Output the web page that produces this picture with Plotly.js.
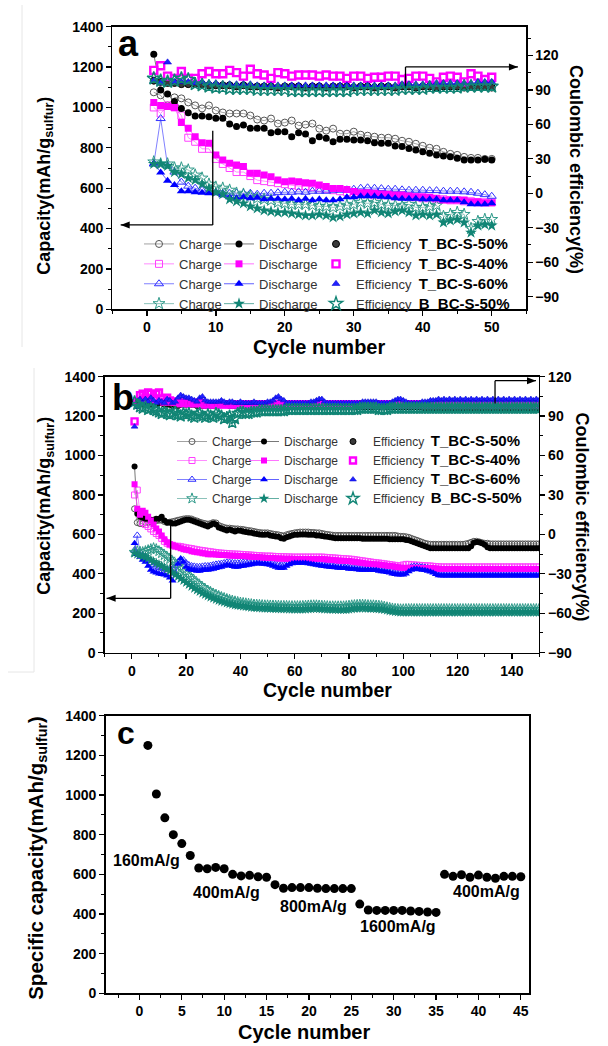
<!DOCTYPE html>
<html><head><meta charset="utf-8">
<script src="https://cdn.plot.ly/plotly-3.0.1.min.js"></script>
<style>html,body{margin:0;padding:0;background:#fff}#g{width:608px;height:1046px}</style>
</head><body><div id="g"></div>
<script>
// ---------- Panel a (cycles 1..50) ----------
const aC50=[1075,1060,1010,1050,1045,1025,1010,995,1010,985,975,970,970,970,960,940,935,945,920,925,935,910,915,920,895,885,895,870,870,880,865,860,855,850,850,845,835,830,820,810,800,795,780,770,765,755,750,750,745,745];
const aD50=[1263,1086,1067,1029,995,974,958,958,954,946,946,918,905,913,897,897,897,875,880,880,855,875,868,835,855,847,830,842,842,839,839,835,825,822,822,809,806,797,789,781,773,764,759,756,748,740,740,740,743,740];
const aC40=[1000,970,1010,1000,960,850,830,795,795,745,720,700,680,680,660,640,635,630,625,620,615,610,610,605,600,595,590,585,580,575,570,570,565,565,565,560,560,555,555,550,550,545,545,540,540,535,535,530,530,530];
const aD40=[1025,1010,1005,1000,925,897,855,825,822,764,740,723,715,707,674,674,665,657,640,632,636,632,627,624,616,608,599,599,594,583,578,578,575,571,570,566,566,561,558,558,555,550,541,541,541,541,533,533,528,528];
const aC60=[720,945,711,680,630,610,600,590,580,580,575,575,575,575,575,570,575,575,578,580,580,582,580,585,585,585,590,590,592,595,600,602,600,598,595,595,592,590,590,590,588,588,585,585,585,582,580,575,568,560];
const aD60=[723,678,637,616,585,585,580,578,575,575,565,555,550,555,550,552,545,548,548,545,548,540,548,540,545,540,540,545,555,555,560,560,560,558,555,550,548,548,548,545,545,545,540,540,540,530,520,520,520,525];
const aCB=[730,720,720,700,700,690,665,650,620,605,600,590,575,570,560,550,545,540,530,525,520,520,520,515,510,510,505,510,515,520,530,525,530,520,515,515,510,520,505,505,510,515,460,470,480,470,400,435,445,445];
const aDB=[720,720,710,680,670,650,640,620,600,580,570,545,535,525,510,500,490,485,480,480,475,470,465,465,470,465,455,460,470,475,480,475,490,480,475,485,490,480,465,470,465,470,430,440,445,430,380,415,420,415];
const aE50=[98,97,96,96,95,95,95,95,94,94,94,94,93,94,93,93,93,93,92,93,93,93,92,93,93,92,93,93,93,92,93,93,92,93,93,92,93,93,92,93,93,92,93,93,93,92,93,93,93,92];
const aE40=[107,111,102,100,106,100,100,104,106,104,104,107,105,102,108,104,103,100,105,104,102,103,103,103,102,103,102,102,100,102,102,100,101,101,102,102,99,100,102,102,100,97,101,102,101,97,104,102,99,101];
const aE60=[98,96,114,97,97,97,96,97,96,96,95,95,95,95,95,94,94,94,94,94,94,94,94,94,94,94,94,94,94,94,94,94,94,94,94,94,95,95,95,95,95,96,96,96,96,96,96,97,97,97];
const aEB=[100,98,97,98,100,99,95,94,93,92,92,91,91,91,91,90,90,90,90,90,89,89,89,89,89,89,89,89,89,90,90,90,90,90,90,90,91,91,91,91,92,92,92,92,92,93,93,93,93,93];

// ---------- Panel b (cycles 1..150) ----------
const bC50=[730,660,655,655,660,660,665,668,670,672,672,665,660,662,665,668,672,675,678,680,680,678,672,668,662,658,655,652,655,660,658,645,640,635,632,632,630,628,628,626,625,622,620,618,615,612,610,608,608,608,605,602,600,598,595,592,598,602,605,608,610,612,612,612,612,610,610,608,608,605,602,600,598,596,595,595,595,595,595,595,595,595,595,595,595,595,595,595,595,595,595,595,595,595,595,595,595,592,590,590,588,585,580,575,570,565,560,555,552,550,550,550,550,550,550,550,550,550,550,550,550,550,552,555,560,565,565,562,558,555,555,552,552,552,552,552,552,552,552,552,552,552,552,552,552,552,552,552,552,552];
const bD50=[945,705,690,685,680,680,675,675,680,680,690,670,660,660,655,655,660,665,670,675,675,670,665,660,655,650,645,640,648,655,650,635,630,625,620,625,620,615,620,618,615,612,610,608,605,602,600,598,598,600,595,592,590,588,580,578,585,590,595,598,598,600,600,600,598,598,598,595,595,592,590,588,585,583,580,580,580,580,580,580,580,580,580,580,578,578,578,578,578,578,578,578,578,578,575,575,575,575,575,575,572,570,565,560,555,550,545,540,535,530,530,530,530,530,530,530,530,530,530,530,530,530,530,530,540,558,562,560,555,548,535,530,530,530,530,530,530,530,530,530,530,530,530,530,530,530,530,530,530,530];
const bC40=[800,825,705,660,650,640,628,615,605,595,580,565,555,548,545,540,540,538,535,532,530,528,525,522,520,518,516,514,512,510,508,506,505,504,503,502,501,500,500,499,498,497,496,495,494,493,492,491,490,490,490,489,488,488,487,487,486,486,485,485,485,485,485,485,485,485,485,485,485,485,484,483,482,481,480,479,478,477,476,475,474,472,470,468,466,464,462,460,458,456,455,453,451,449,447,445,443,441,440,445,448,448,446,445,444,443,442,441,440,440,438,437,436,435,435,435,435,435,435,435,435,435,435,435,435,435,435,435,435,435,435,435,435,435,435,435,435,435,435,435,435,435,435,435,435,435,435,435,435,435];
const bD40=[855,730,700,720,710,690,670,650,630,615,595,575,560,550,545,540,535,530,525,522,520,515,512,510,508,505,503,500,500,500,498,497,496,495,494,493,492,492,491,490,490,489,488,487,486,485,484,483,482,480,480,480,479,478,478,477,477,476,476,475,475,475,475,475,475,475,475,475,475,475,474,473,472,470,469,468,467,466,465,465,463,461,459,457,455,453,451,450,449,448,447,445,443,441,440,438,436,434,432,430,430,430,430,430,430,430,430,430,430,430,428,427,426,425,425,425,425,425,425,425,425,425,425,425,425,425,425,425,425,425,425,425,425,425,425,425,425,425,425,425,425,425,425,425,425,425,425,425,425,425];
const bC60=[520,595,510,495,485,470,455,445,438,432,428,425,422,420,425,440,460,470,470,455,445,440,438,436,436,438,440,440,442,445,448,450,452,455,458,458,456,455,455,456,458,460,462,464,465,466,466,465,465,464,462,458,452,448,445,446,452,458,462,465,466,466,466,466,465,463,461,459,457,455,453,451,450,448,447,445,445,443,442,440,440,440,438,436,436,436,436,435,434,433,431,428,426,424,421,418,415,413,412,412,418,428,435,438,438,436,434,432,430,426,420,414,410,408,408,408,408,408,408,408,408,408,408,408,408,408,408,408,408,408,408,408,408,408,408,408,408,408,408,408,408,408,408,408,408,408,408,408,408,408];
const bD60=[555,500,485,470,460,440,420,410,405,400,398,395,390,380,365,400,450,478,460,435,425,420,418,415,415,418,420,420,422,425,428,432,435,440,445,442,438,435,435,438,440,442,445,448,450,452,452,450,450,448,445,440,435,430,428,430,440,448,452,455,455,455,455,455,452,450,448,445,442,440,438,436,435,433,432,430,430,428,428,425,425,425,422,420,420,420,420,420,418,418,415,412,410,408,405,400,398,396,395,395,400,412,420,425,425,422,420,418,415,410,405,398,392,390,390,390,390,390,390,390,390,390,390,390,390,390,390,390,390,390,390,390,390,390,390,390,390,390,390,390,390,390,390,390,390,390,390,390,390,390];
const bCB=[510,515,512,510,515,520,525,530,525,515,505,495,485,475,462,450,438,425,412,400,388,376,364,352,342,332,323,315,308,300,294,288,282,277,272,268,264,260,257,254,252,250,248,246,244,243,242,241,240,240,239,239,238,238,237,237,237,236,236,236,236,236,237,238,239,240,240,240,239,238,237,236,235,235,235,235,235,235,236,238,240,241,242,243,243,242,241,240,240,239,238,236,233,230,227,224,222,221,220,220,221,221,221,221,221,221,221,221,221,221,221,221,221,221,221,221,221,221,221,221,221,221,221,221,221,221,221,221,221,221,221,221,221,221,221,221,221,221,221,221,221,221,221,221,221,221,221,221,221,221];
const bDB=[505,500,495,490,485,478,470,462,455,448,440,432,424,415,405,396,386,376,366,356,346,336,326,318,310,302,295,288,282,276,270,265,260,256,252,248,245,242,240,238,236,234,232,230,229,228,227,226,225,225,224,224,223,223,222,222,222,221,221,220,220,220,220,221,222,223,224,224,223,222,221,220,220,219,219,218,218,218,218,220,222,224,225,226,226,225,225,224,224,223,222,220,218,215,212,210,208,206,205,205,205,205,205,205,205,205,205,205,205,205,205,205,205,205,205,205,205,205,205,205,205,205,205,205,205,205,205,205,205,205,205,205,205,205,205,205,205,205,205,205,205,205,205,205,205,205,205,205,205,205];
const bE50=[100,98,99,100,99,99,100,99,99,100,100,99,99,99,98,98,98,99,99,99,99,99,99,98,98,98,98,98,98,98,98,99,99,99,99,98,98,98,98,98,98,98,98,97,97,97,97,97,97,97,98,98,98,97,97,97,97,97,97,97,97,97,97,98,98,97,97,97,97,97,97,97,97,97,97,97,97,97,97,97,97,97,97,97,97,97,97,97,97,97,97,97,97,97,97,97,97,97,97,97,97,97,97,97,97,97,97,96,96,96,96,96,96,96,96,96,96,96,96,96,96,96,96,96,96,96,96,96,96,96,96,96,96,96,96,96,96,96,96,96,96,96,96,96,96,96,96,96,96,96];
const bE40=[86,101,106,107,104,108,107,103,107,108,103,101,104,102,101,101,101,100,100,100,100,100,100,100,100,99,99,99,99,99,99,99,99,99,99,99,99,99,99,99,99,99,99,99,99,99,99,99,99,99,99,99,99,99,99,99,99,99,99,99,99,99,99,99,99,99,99,99,99,99,99,99,99,99,99,99,99,99,99,99,99,99,99,99,99,99,99,99,99,99,99,99,99,99,99,99,99,99,99,99,99,99,99,99,99,99,99,99,99,99,99,99,99,99,99,99,99,99,99,99,99,99,99,99,99,99,99,99,99,99,99,99,99,99,99,99,99,99,99,99,99,99,99,99,99,99,99,99,99,99];
const bE60=[82,97,103,100,103,101,104,102,100,102,101,100,103,102,100,101,104,106,105,104,104,103,102,101,104,105,102,101,101,101,101,101,102,101,100,101,101,100,100,101,100,100,100,100,101,100,100,100,100,101,101,102,104,105,103,102,100,100,100,100,100,100,100,100,100,101,101,102,103,103,101,100,100,100,100,100,100,100,100,100,100,100,100,100,101,101,101,101,101,101,100,100,100,100,100,101,102,103,103,102,101,100,100,100,100,100,101,101,101,102,102,102,103,102,103,102,103,102,103,102,103,102,103,102,103,102,103,102,103,102,103,102,103,102,103,102,103,102,103,102,103,102,103,102,103,102,103,102,103,102];
const bEB=[101,99,97,96,97,95,96,95,94,93,92,93,92,91,92,93,91,90,92,91,92,90,89,91,92,90,89,91,90,89,92,91,90,88,89,90,85,88,92,93,93,92,92,93,93,93,94,94,94,94,94,94,94,94,94,94,95,95,95,95,95,95,95,95,95,95,95,95,95,95,95,95,95,95,95,95,95,95,95,95,95,95,95,96,96,96,96,96,96,96,95,95,95,95,96,96,96,96,96,96,96,96,96,96,96,96,96,96,96,96,96,96,96,96,96,96,96,96,96,96,96,96,96,96,96,96,96,96,96,96,96,96,96,96,96,96,96,96,96,96,96,96,96,96,96,96,96,96,96,96];

// ---------- Panel c (cycles 1..45) ----------
const cCap=[1250,1005,885,800,755,695,632,628,635,628,600,592,595,588,585,548,530,533,533,533,530,528,528,528,528,450,420,418,418,418,418,415,413,410,408,600,590,598,585,596,585,580,590,590,588];
const cRates=['160mA/g','400mA/g','800mA/g','1600mA/g','400mA/g'];
const cRateX=[0.8,10.3,20.5,30.5,40.9];
const cRateY=[672,508,437,336,513];

const samples=['T_BC-S-50%','T_BC-S-40%','T_BC-S-60%','B_BC-S-50%'];

const F='"Liberation Sans", Arial, sans-serif';
const chargeSty=[
 {line:'#8a8a8a',mk:'circle-open',mc:'#555555'},
 {line:'#ff70ff',mk:'square-open',mc:'#ff40ff'},
 {line:'#6060ff',mk:'triangle-up-open',mc:'#3030ff'},
 {line:'#6fb3a8',mk:'star-open',mc:'#2f9a8a'}];
const dischSty=[
 {line:'#555555',mk:'circle',mc:'#000000'},
 {line:'#ff50ff',mk:'square',mc:'#ff00ff'},
 {line:'#3a3aff',mk:'triangle-up',mc:'#0000ff'},
 {line:'#3a9a8c',mk:'star',mc:'#118575'}];
const effSty=[
 {mk:'circle',mc:'#3a3a3a',lw:1,lc:'#000'},
 {mk:'square-open',mc:'#ff00ff',lw:2.4,lc:'#ff00ff'},
 {mk:'triangle-up',mc:'#2020ff',lw:0.5,lc:'#0000cc'},
 {mk:'star-open',mc:'#118575',lw:1.4,lc:'#118575'}];

const traces=[];
function addPanel(C,D,E,xa,yl,yr,lg,sz){
  C.forEach((y,i)=>traces.push({type:'scatter',mode:'lines+markers',y:y,x0:1,dx:1,xaxis:xa,yaxis:yl,name:'Charge',legend:lg[0],
    line:{color:chargeSty[i].line,width:0.8},marker:{symbol:chargeSty[i].mk,size:sz[0]+(i>=2?1+(i-2)*1:0),color:chargeSty[i].mc,line:{width:1,color:chargeSty[i].mc}},hoverinfo:'skip'}));
  D.forEach((y,i)=>traces.push({type:'scatter',mode:'lines+markers',y:y,x0:1,dx:1,xaxis:xa,yaxis:yl,name:'Discharge',legend:lg[1],
    line:{color:dischSty[i].line,width:0.8},marker:{symbol:dischSty[i].mk,size:sz[1]+(i>=2?1+(i-2)*1:0),color:dischSty[i].mc,line:{width:0}},hoverinfo:'skip'}));
  E.forEach((y,i)=>traces.push({type:'scatter',mode:'markers',y:y,x0:1,dx:1,xaxis:xa,yaxis:yr,
    name:'Efficiency\u00a0\u00a0<b><span style="font-size:'+sz[2]+'px;color:#000">'+samples[i]+'</span></b>',legend:lg[2],
    marker:{symbol:effSty[i].mk,size:sz[0]+(i==3?3:0),color:effSty[i].mc,line:{width:effSty[i].lw,color:effSty[i].lc}},hoverinfo:'skip'}));
}
addPanel([aC50,aC40,aC60,aCB],[aD50,aD40,aD60,aDB],[aE50,aE40,aE60,aEB],'x','y','y2',['legend','legend2','legend3'],[7,7,15]);
addPanel([bC50,bC40,bC60,bCB],[bD50,bD40,bD60,bDB],[bE50,bE40,bE60,bEB],'x2','y3','y4',['legend4','legend5','legend6'],[6,6,15]);
traces.push({type:'scatter',mode:'markers',y:cCap,x0:1,dx:1,xaxis:'x3',yaxis:'y5',showlegend:false,
  marker:{symbol:'circle',size:9,color:'#000'},hoverinfo:'skip'});

const W=608,H=1046;
const px=v=>v/W, py=v=>1-v/H;
const tf={family:F,size:14,color:'#000',weight:'bold'};
function ax(o){return Object.assign({showline:true,linecolor:'#000',linewidth:1.3,ticks:'outside',ticklen:5,tickwidth:1.3,tickcolor:'#000',
  showgrid:false,zeroline:false,tickfont:tf,fixedrange:true},o);}
const mn=(d)=>({dtick:d,ticks:'outside',ticklen:3,tickwidth:1,tickcolor:'#000',showgrid:false});

const layout={width:W,height:H,margin:{l:0,r:0,t:0,b:0},paper_bgcolor:'#fff',plot_bgcolor:'rgba(0,0,0,0)',
  xaxis:ax({domain:[px(112.4),px(526.2)],anchor:'y',range:[-5,55],dtick:10,tick0:0,mirror:true,minor:mn(5)}),
  yaxis:ax({domain:[py(309.3),py(26.7)],anchor:'x',range:[0,1400],dtick:200,minor:mn(100),mirror:false}),
  yaxis2:ax({overlaying:'y',side:'right',anchor:'x',range:[-101,145],dtick:30,tick0:0,minor:mn(15)}),
  xaxis2:ax({domain:[px(104.7),px(539)],anchor:'y3',range:[-10,150],dtick:20,tick0:0,mirror:true,minor:mn(10)}),
  yaxis3:ax({domain:[py(652.7),py(376.7)],anchor:'x2',range:[0,1400],dtick:200,minor:mn(100)}),
  yaxis4:ax({overlaying:'y3',side:'right',anchor:'x2',range:[-90,120],dtick:30,tick0:0,minor:mn(15)}),
  xaxis3:ax({domain:[px(105.5),px(529.3)],anchor:'y5',range:[-4,46],dtick:5,tick0:0,mirror:true,minor:mn(2.5)}),
  yaxis5:ax({domain:[py(993.3),py(715.7)],anchor:'x3',range:[0,1400],dtick:200,mirror:true,minor:mn(100)}),
  showlegend:true,
  annotations:[],shapes:[]
};
const legBase=(x,y,s)=>({x:px(x),y:py(y),xanchor:'left',yanchor:'top',bgcolor:'rgba(0,0,0,0)',borderwidth:0,
  font:{family:F,size:s,color:'#333'},tracegroupgap:0,itemclick:false,itemdoubleclick:false});
layout.legend=legBase(139,229,13); layout.legend2=legBase(219,229,13); layout.legend3=legBase(316,229,13);
layout.legend4=legBase(172,427,12); layout.legend5=legBase(244,427,12); layout.legend6=legBase(333,427,12);

const A=layout.annotations, S=layout.shapes;
const bold=(s)=>({family:F,size:s,color:'#000',weight:'bold'});
function pAnn(t,x,y,s,ang,xa){A.push({text:t,xref:'paper',yref:'paper',x:px(x),y:py(y),xanchor:xa||'center',yanchor:'middle',showarrow:false,font:bold(s),textangle:ang||0});}
pAnn('a',116,44,36,0,'left'); pAnn('b',110,398,36,0,'left'); pAnn('c',115,733,32,0,'left');
pAnn('Cycle number',319,347,20); pAnn('Cycle number',327.6,690,19.5); pAnn('Cycle number',303.6,1032,20);
pAnn('Capacity(mAh/g<sub>sulfur</sub>)',45.7,186,18,-90);
pAnn('Capacity(mAh/g<sub>sulfur</sub>)',45.8,506,18,-90);
pAnn('Specific capacity(mAh/g<sub>sulfur</sub>)',36.8,858,20.5,-90);
pAnn('Coulombic efficiency(%)',576,169,18,90);
pAnn('Coulombic efficiency(%)',581.6,517,18,90);
cRates.forEach((t,i)=>A.push({text:t,xref:'x3',yref:'y5',x:cRateX[i],y:cRateY[i],showarrow:false,font:bold(16)}));

// bent arrows: vertical segment, horizontal segment, triangular head
function arrow(xr,yr,xv,y0,y1,xh){
  const ln={color:'#000',width:1.3};
  S.push({type:'line',xref:xr,yref:yr,x0:xv,x1:xv,y0:y0,y1:y1,line:ln});
  S.push({type:'line',xref:xr,yref:yr,x0:xv,x1:xh,y0:y1,y1:y1,line:ln});
  const dir=xh>xv?-1:1;
  S.push({type:'path',xref:xr,yref:yr,xsizemode:'pixel',ysizemode:'pixel',xanchor:xh,yanchor:y1,
    path:'M0,0L'+(dir*9)+',3.5L'+(dir*9)+',-3.5Z',fillcolor:'#000',line:{width:0}});
}
arrow('x','y2',37.5,93,110,53.8);
arrow('x','y',9.55,885,418,-3.8);
arrow('x2','y4',133.8,99.7,117,148.9);
arrow('x2','y3',14.3,648,276,-9.3);

// faint panel frame remnants
S.push({type:'line',xref:'paper',yref:'paper',x0:px(22),x1:px(22),y0:py(5),y1:py(347),line:{color:'#e6e6e6',width:1}});
S.push({type:'line',xref:'paper',yref:'paper',x0:px(34),x1:px(34),y0:py(368),y1:py(672),line:{color:'#e6e6e6',width:1}});
S.push({type:'line',xref:'paper',yref:'paper',x0:px(8),x1:px(34),y0:py(672),y1:py(672),line:{color:'#e6e6e6',width:1}});

Plotly.newPlot('g',traces,layout,{staticPlot:true,displayModeBar:false});
</script></body></html>
